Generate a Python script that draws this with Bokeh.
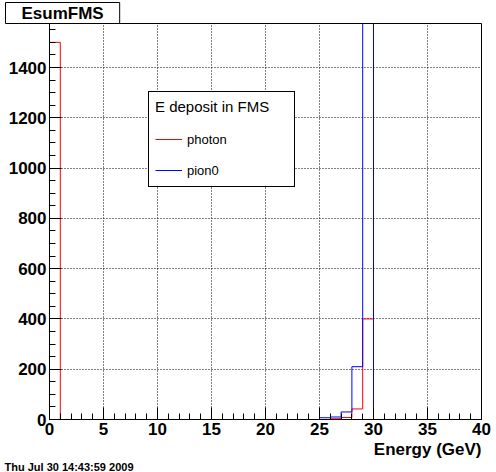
import numpy as np
from bokeh.plotting import figure
from bokeh.models import Range1d, SingleIntervalTicker, Legend, LegendItem, Title
from bokeh.embed import file_html
from bokeh.resources import INLINE

# ---- data ----
bin_edges = list(range(0, 41))          # Energy (GeV), 1 GeV bins
photon = [1500] + [0] * 25 + [3, 8, 42, 400] + [0] * 10
pion0 = [0] * 25 + [7, 10, 30, 210, 1740] + [0] * 10
y_max = 1575
title_text = "EsumFMS"
legend_title = "E deposit in FMS"
x_label = "Energy (GeV)"
date_text = "Thu Jul 30 14:43:59 2009"

FONT = "Liberation Sans"

W, H = 496, 472
L, R, T = 49, 481, 14

p = figure(width=W, height=H, output_backend="svg", toolbar_location=None,
           title=None,
           x_range=Range1d(0, 40), y_range=Range1d(0, y_max),
           min_border_left=L, min_border_right=W - R,
           min_border_top=T, min_border_bottom=0)
p.background_fill_color = "white"
p.border_fill_color = "white"
p.outline_line_color = "black"
p.outline_line_alpha = 1.0
p.outline_line_width = 1


def step_xy(edges, vals):
    xs = np.concatenate([[edges[0]], np.repeat(edges, 2)[1:-1], [edges[-1]]])
    ys = np.concatenate([[0], np.repeat(vals, 2), [0]])
    return xs, ys


xr, yr = step_xy(bin_edges, photon)
xb, yb = step_xy(bin_edges, pion0)
r_red = p.line(xr, yr, line_color="red", line_width=1)
r_blue = p.line(xb, yb, line_color="blue", line_width=1)

for ax, interval, nminor in ((p.xaxis[0], 5, 5), (p.yaxis[0], 200, 4)):
    ax.ticker = SingleIntervalTicker(interval=interval, num_minor_ticks=nminor)
    ax.axis_line_color = "black"
    ax.major_tick_line_color = "black"
    ax.minor_tick_line_color = "black"
    ax.major_tick_in = 12
    ax.major_tick_out = 0
    ax.minor_tick_in = 6
    ax.minor_tick_out = 0
    ax.major_label_text_font = FONT
    ax.major_label_text_font_style = "bold"
    ax.major_label_text_font_size = "17px"
    ax.major_label_text_color = "black"
    ax.major_label_standoff = 3

for g in (p.xgrid[0], p.ygrid[0]):
    g.grid_line_color = "black"
    g.grid_line_dash = "1 2"
    g.grid_line_width = 1

# title box above the frame
p.add_layout(Title(text=title_text, align="left", offset=-44, standoff=0,
                   text_font=FONT, text_font_style="bold", text_font_size="17px",
                   text_color="black",
                   background_fill_color="white", background_fill_alpha=1,
                   border_line_color="black", border_line_width=1,
                   padding=dict(left=16, right=16, top=1, bottom=1)), "above")

# bottom texts live in the panel below the x axis
p.add_layout(Title(text=x_label, align="right", standoff=0,
                   text_font=FONT, text_font_style="bold", text_font_size="17px",
                   text_color="black"), "below")
p.add_layout(Title(text=date_text, align="left", offset=-45, standoff=0,
                   text_font=FONT, text_font_style="bold", text_font_size="11px",
                   text_color="black"), "below")

legend = Legend(items=[LegendItem(label="photon", renderers=[r_red]),
                       LegendItem(label="pion0", renderers=[r_blue])],
                location=(148 - L, 232), title=legend_title,
                title_text_font=FONT, title_text_font_size="15px",
                title_text_font_style="normal", title_text_color="black",
                title_standoff=14,
                label_text_font=FONT, label_text_font_size="13px",
                label_text_color="black",
                glyph_width=27, glyph_height=20, label_height=20,
                label_width=101, label_standoff=5, spacing=11,
                padding=6, margin=0,
                border_line_color="black", border_line_width=1, border_line_alpha=1,
                background_fill_color="white", background_fill_alpha=1)
p.add_layout(legend)

open("out.html", "w").write(file_html(p, INLINE))
